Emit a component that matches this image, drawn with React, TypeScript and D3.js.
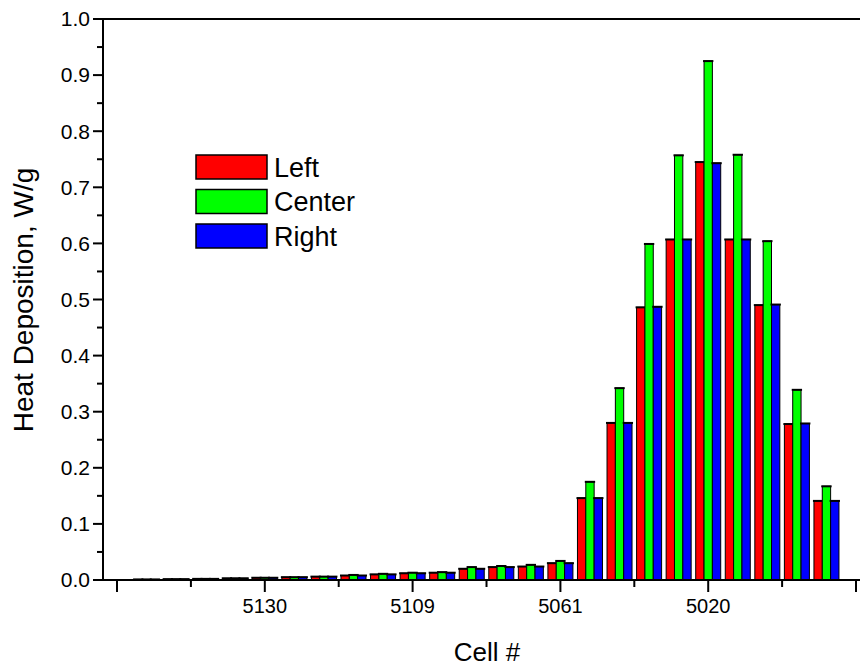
import React from "react";
import * as d3 from "d3";

const groupPos = [1,2,3,4,5,6,7,8,9,10,11,12,13,14,15,16,17,18,19,20,21,22,23,24];
const leftVals = [0.001,0.0015,0.002,0.003,0.004,0.005,0.006,0.008,0.010,0.012,0.013,0.020,0.023,0.024,0.030,0.146,0.280,0.486,0.607,0.745,0.607,0.490,0.278,0.141];
const centerVals = [0.001,0.0015,0.002,0.003,0.004,0.005,0.006,0.009,0.011,0.013,0.014,0.023,0.025,0.027,0.034,0.175,0.342,0.599,0.757,0.925,0.758,0.604,0.339,0.167];
const rightVals = [0.001,0.0015,0.002,0.003,0.004,0.005,0.006,0.008,0.010,0.012,0.013,0.020,0.023,0.024,0.030,0.146,0.280,0.487,0.607,0.743,0.607,0.491,0.279,0.141];
const seriesNames = ["Left", "Center", "Right"];
const seriesColors = ["#ff0000", "#00ff00", "#0000ff"];
const xTickPos = [0, 5, 10, 15, 20, 25];
const xTickLabels = ["", "5130", "5109", "5061", "5020", ""];
const xMinorPos = [2.5, 7.5, 12.5, 17.5, 22.5];
const yTicks = [0, 0.1, 0.2, 0.3, 0.4, 0.5, 0.6, 0.7, 0.8, 0.9, 1.0];
const yMinor = [0.05, 0.15, 0.25, 0.35, 0.45, 0.55, 0.65, 0.75, 0.85, 0.95];

const W = 860, H = 668;
const FONT = "Arial, 'Liberation Sans', sans-serif";

export default function App() {
  const x = d3.scaleLinear().domain([-0.474, 25.135]).range([103, 860]);
  const y = d3.scaleLinear().domain([0, 1]).range([580, 19]);
  const data = [leftVals, centerVals, rightVals];
  const bw = 0.282; // bar width in index units
  const x0 = 103, yb = 580;

  return (
    <svg width={W} height={H} style={{ position: "absolute", left: 0, top: 0, background: "#fff" }} fontFamily={FONT}>
      <rect x={0} y={0} width={W} height={H} fill="#fff" />
      {groupPos.map((g, i) =>
        data.map((vals, s) => {
          const xl = x(g - 1.5 * bw + s * bw);
          const xr = x(g - 1.5 * bw + (s + 1) * bw);
          const yt = y(vals[i]);
          return (
            <g key={`${i}-${s}`}>
              <rect x={xl} y={yt} width={xr - xl} height={Math.max(0, yb - yt)} fill={seriesColors[s]} stroke="#000" strokeWidth={1} />
              <line x1={xl - 1} x2={xr + 1} y1={yt} y2={yt} stroke="#000" strokeWidth={2} />
            </g>
          );
        })
      )}
      <line x1={x0} x2={W} y1={y(1)} y2={y(1)} stroke="#000" strokeWidth={2} />
      <line x1={x0} x2={x0} y1={y(1) - 1} y2={yb + 1} stroke="#000" strokeWidth={2} />
      <line x1={x0 - 1} x2={W} y1={yb} y2={yb} stroke="#000" strokeWidth={2} />
      {yTicks.map((t) => (
        <g key={"yt" + t}>
          <line x1={x0 - 10} x2={x0} y1={y(t)} y2={y(t)} stroke="#000" strokeWidth={2} />
          <text x={x0 - 13} y={y(t)} dy="0.35em" textAnchor="end" fontSize={21}>{t.toFixed(1)}</text>
        </g>
      ))}
      {yMinor.map((t) => (
        <line key={"ym" + t} x1={x0 - 6} x2={x0} y1={y(t)} y2={y(t)} stroke="#000" strokeWidth={2} />
      ))}
      {xTickPos.map((t, i) => (
        <g key={"xt" + t}>
          <line x1={x(t)} x2={x(t)} y1={yb} y2={yb + 12} stroke="#000" strokeWidth={2} />
          <text x={x(t)} y={yb + 33} textAnchor="middle" fontSize={20}>{xTickLabels[i]}</text>
        </g>
      ))}
      {xMinorPos.map((t) => (
        <line key={"xm" + t} x1={x(t)} x2={x(t)} y1={yb} y2={yb + 7} stroke="#000" strokeWidth={2} />
      ))}
      <text x={487} y={661} textAnchor="middle" fontSize={26}>Cell #</text>
      <text transform={`translate(33,300) rotate(-90)`} textAnchor="middle" fontSize={28}>Heat Deposition, W/g</text>
      {seriesNames.map((n, s) => (
        <g key={n} transform={`translate(196,${155 + s * 34.5})`}>
          <rect x={0} y={0} width={71} height={24} fill={seriesColors[s]} stroke="#000" strokeWidth={1.5} />
          <text x={78} y={12} dy="0.36em" fontSize={27}>{n}</text>
        </g>
      ))}
    </svg>
  );
}
